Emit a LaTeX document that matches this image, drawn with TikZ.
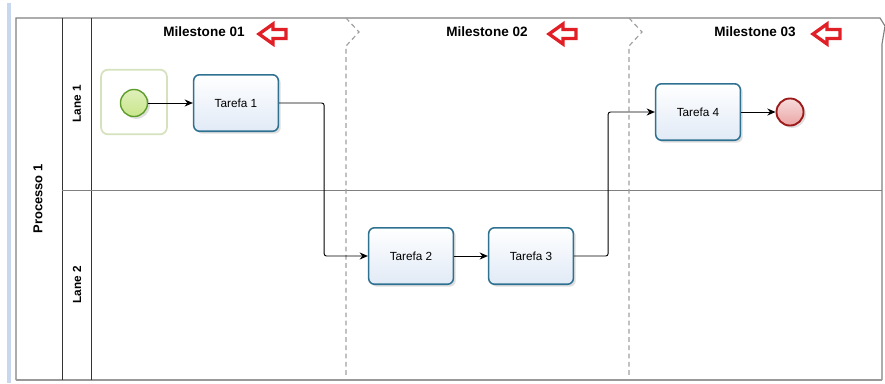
\documentclass[tikz,border=0pt]{standalone}
\usepackage{fontspec}
\setmainfont{Liberation Sans}
\usetikzlibrary{shadows,arrows.meta}
\definecolor{taskline}{HTML}{2F7191}
\definecolor{taskfill}{HTML}{E1EAF6}
\definecolor{startline}{HTML}{5E9C2A}
\definecolor{startfill}{HTML}{C9E68C}
\definecolor{endline}{HTML}{9C1A1A}
\definecolor{endfill}{HTML}{EBA5A5}
\definecolor{poolline}{HTML}{808080}
\definecolor{msred}{HTML}{E01F26}
\tikzset{
  task/.style={draw=taskline, line width=1.3pt, rounded corners=5pt, top color=white, bottom color=taskfill,
    minimum width=72pt, minimum height=48pt, font=\fontsize{10}{12}\selectfont,
    drop shadow={opacity=0.25, shadow xshift=2pt, shadow yshift=-2pt}},
  flow/.style={-{Stealth[length=7pt,width=6pt]}, line width=0.8pt, rounded corners=2pt},
  milestone/.style={font=\bfseries\fontsize{11.5}{13}\selectfont},
  lanelabel/.style={font=\bfseries\fontsize{10}{12}\selectfont, rotate=90},
  msline/.style={draw=gray!75, line width=1pt, dash pattern=on 4pt off 3pt},
  msarrow/.pic={\draw [msred, line width=2.8pt, fill=white, line join=miter]
    (1,0) -- (15,-10) -- (15,-4.5) -- (28,-4.5) -- (28,4.5) -- (15,4.5) -- (15,10) -- cycle ;}
}
\begin{document}
\begin{tikzpicture}[x=0.85pt, y=-0.85pt]
    \useasboundingbox (0,0) rectangle (885,383) ;
    % pool and lanes
    \draw [line width=3pt, draw={rgb,255:red,200;green,215;blue,238}] (9,3) -- (9,383) ;
    \draw [poolline, line width=1pt] (16,380) -- (16,18) -- (880,18) -- (885,26) -- (882,44) -- (882,380) ;
    \draw [gray!80, line width=2pt] (16,380) -- (882,380) ;
    \draw [black!80, line width=0.7pt] (62,18) -- (62,380) ;
    \draw [black!80, line width=0.7pt] (91,18) -- (91,380) ;
    \draw [poolline, line width=0.8pt] (62,190) -- (882,190) ;
    \node [lanelabel, font=\bfseries\fontsize{11}{13}\selectfont] (pool) at (38,199) {Processo 1} ;
    \node [lanelabel] (lane1) at (77,104) {Lane 1} ;
    \node [lanelabel] (lane2) at (77,285) {Lane 2} ;

    % milestones
    \draw [msline] (346,18) -- (359,32) -- (346,46) -- (346,378) ;
    \draw [msline] (629,18) -- (642,32) -- (629,46) -- (629,378) ;
    \node [milestone] (ms1) at (204,32) {Milestone 01} ;
    \node [milestone] (ms2) at (487,32) {Milestone 02} ;
    \node [milestone] (ms3) at (755,32) {Milestone 03} ;
    \pic at (258,34) {msarrow} ;
    \pic at (548,34) {msarrow} ;
    \pic at (812,34) {msarrow} ;

    % events and tasks
    \node [draw={rgb,255:red,214;green,226;blue,190}, line width=1.5pt, rounded corners=6pt,
        minimum width=56pt, minimum height=55pt] (startbox) at (134,102) {} ;
    \node [circle, draw=startline, line width=1.2pt, top color=white!40!startfill, bottom color=startfill,
        minimum size=23pt, inner sep=0pt, drop shadow={opacity=0.25, shadow xshift=2pt, shadow yshift=-2pt}] (start) at (134,103) {} ;
    \node [task] (t1) at (236,103) {Tarefa 1} ;
    \node [task] (t2) at (411,256) {Tarefa 2} ;
    \node [task] (t3) at (531,256) {Tarefa 3} ;
    \node [task] (t4) at (698,112) {Tarefa 4} ;
    \node [circle, draw=endline, line width=1.6pt, top color=white!60!endfill, bottom color=endfill,
        minimum size=23pt, inner sep=0pt, drop shadow={opacity=0.25, shadow xshift=2pt, shadow yshift=-2pt}] (end) at (790,112) {} ;

    % sequence flows
    \draw [flow] (start) -- (t1) ;
    \draw [flow] (t1.east) -- ++(45,0) |- (t2.west) ;
    \draw [flow] (t2) -- (t3) ;
    \draw [flow] (t3.east) -- ++(34,0) |- (t4.west) ;
    \draw [flow] (t4) -- (end) ;
\end{tikzpicture}
\end{document}
